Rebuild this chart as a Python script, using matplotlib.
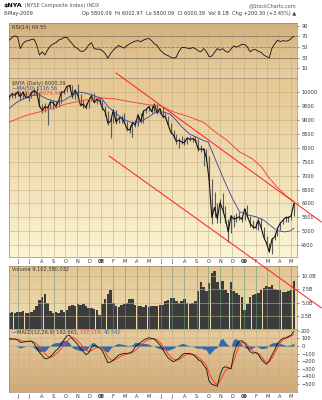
import numpy as np
import pandas as pd
import matplotlib
matplotlib.use("Agg")
import matplotlib.pyplot as plt
import matplotlib.dates as mdates
from matplotlib.lines import Line2D
from matplotlib.colors import LinearSegmentedColormap
from matplotlib.ticker import FuncFormatter

# weekly bars, Friday closes
weeks = pd.date_range("2007-05-11", "2009-05-08", freq="W-FRI")

close = [9820, 9930, 9880, 10000, 9830, 9990, 9800, 9800, 9960, 10050, 9980, 9500,
         9340, 9470, 9430, 9640, 9610, 9480, 9680, 9990, 10000, 10200, 10230, 9830,
         10060, 9890, 9520, 9560, 9440, 9700, 9860, 9620, 9730, 9690,
         9420, 9300, 8880, 8950, 9350, 8920, 9050, 9070, 8920, 8670, 8630, 8900,
         8810, 9180, 8930, 9310, 9370, 9470, 9300, 9560, 9250, 9400, 9120, 9110,
         8830, 8560, 8450, 8230, 8260, 8200, 8180, 8350, 8300, 8320, 8270, 7950,
         7950, 7950, 7650, 6860, 5500, 5860, 5450, 6030, 5780, 5430, 4980, 5560,
         5440, 5470, 5520, 5430,
         5800, 5540, 5290, 5160, 5130, 5400, 5140, 4790, 4570, 4260, 4720, 4800,
         5100, 5290, 5400, 5500, 5490, 5560, 6000]
high = [9900, 9980, 9990, 10060, 10050, 10030, 10050, 9900, 9990, 10110, 10150, 10010,
        9560, 9620, 9520, 9700, 9700, 9680, 9720, 10030, 10070, 10230, 10300, 10250,
        10100, 10300, 9920, 9700, 9620, 9750, 9950, 9950, 9780, 9800,
        9720, 9480, 9320, 9050, 9400, 9350, 9150, 9180, 9230, 8950, 8830, 8950,
        9000, 9220, 9250, 9350, 9420, 9520, 9520, 9620, 9580, 9440, 9450, 9250,
        9150, 8880, 8620, 8500, 8340, 8420, 8350, 8400, 8420, 8400, 8420, 8300,
        8080, 8000, 7950, 7700, 6880, 6400, 6000, 6150, 6380, 5900, 5450, 5600,
        5580, 5650, 5700, 5560,
        5830, 5960, 5550, 5400, 5350, 5480, 5480, 5150, 4830, 4600, 4770, 4950,
        5150, 5330, 5450, 5550, 5560, 5650, 6020]
low = [9720, 9780, 9800, 9850, 9720, 9760, 9770, 9680, 9780, 9880, 9940, 9450,
       9250, 9280, 8830, 9420, 9380, 9430, 9450, 9620, 9930, 9980, 10150, 9800,
       9750, 9850, 9480, 9420, 9380, 9420, 9660, 9600, 9550, 9650,
       9350, 9120, 8820, 8350, 8900, 8860, 8880, 8900, 8880, 8600, 8520, 8390,
       8750, 8770, 8900, 8880, 9230, 9300, 9250, 9290, 9200, 9200, 9080, 9050,
       8800, 8500, 8350, 8150, 8000, 8150, 8100, 8120, 8250, 8200, 8220, 7880,
       7860, 7350, 7550, 6800, 5250, 5500, 5300, 5300, 5650, 5300, 4620, 4950,
       5150, 5350, 5400, 5350,
       5400, 5500, 5150, 5100, 5080, 5050, 5100, 4750, 4530, 4250, 4200, 4700,
       4820, 5050, 5250, 5350, 5330, 5420, 5560]

rsi = [63, 68, 71, 69, 47, 57, 61, 62, 64, 65, 54, 35, 41, 35, 45, 52, 56, 58,
       63, 65, 68, 68, 62, 56, 50, 47, 42, 42, 46, 54, 58, 47, 46, 46, 43, 38,
       29, 38, 44, 49, 53, 50, 48, 53, 56, 59, 61, 62, 60, 63, 65, 66, 62, 56,
       53, 45, 40, 36, 34, 31, 29, 31, 42, 49, 49, 48, 47, 49, 47, 43, 41, 47,
       42, 32, 33, 40, 47, 44, 47, 42, 40, 46, 52, 50, 52, 55, 55, 50, 41, 45,
       45, 42, 40, 35, 32, 30, 48, 56, 63, 60, 62, 61, 62, 66, 70]

# average daily volume per week, billions of shares
volume = [3.1, 3.2, 3.0, 3.3, 3.2, 3.4, 3.1, 3.0, 3.2, 3.6, 4.3, 5.5, 6.0, 6.6,
          5.0, 3.4, 3.1, 3.2, 3.0, 3.5, 3.2, 3.6, 4.3, 4.6, 4.4, 4.8, 4.5, 4.8,
          4.4, 4.0, 4.0, 3.8, 3.6, 2.6, 4.8, 5.6, 6.6, 7.3, 4.9, 4.4, 4.2, 4.6,
          4.8, 5.0, 5.7, 5.6, 4.6, 4.3, 4.4, 4.2, 4.6, 4.2, 4.4, 4.3, 4.4, 4.6,
          4.5, 5.2, 5.4, 5.9, 5.8, 5.2, 5.0, 5.3, 5.6, 5.0, 4.8, 5.0, 5.2, 7.2,
          8.8, 8.0, 7.2, 8.6, 10.5, 11.0, 8.9, 7.6, 9.0, 7.4, 6.8, 8.9, 7.2, 6.8,
          6.4, 6.0, 3.6, 4.8, 6.0, 6.4, 6.6, 6.8, 7.4, 7.8, 8.2, 8.0, 8.4, 7.6,
          7.3, 7.4, 7.0, 7.0, 7.2, 7.3, 9.1]

macd = [92, 92, 92, 80, 48, 52, 57, 64, 65, 32, -25, -85, -125, -168, -165,
        -140, -100, -60, -31, 30, 85, 132, 140, 95, 60, 20, -35, -70, -115, -90,
        -20, 10, -9, -25, -60, -140, -220, -210, -185, -150, -118, -105, -97,
        -97, -90, -70, -10, 20, 50, 75, 95, 110, 100, 92, 55, 15, -40, -100,
        -155, -185, -206, -185, -162, -120, -97, -97, -100, -112, -140, -180,
        -200, -250, -300, -460, -505, -515, -530, -382, -290, -272, -285, -300,
        -110, 5, 65, 70, 35, -15, -75, -95, -85, -110, -170, -210, -240, -190,
        -120, -50, 30, 70, 103, 108, 125, 145, 193]
signal = [95, 93, 92, 88, 75, 65, 60, 60, 62, 55, 30, -10, -55, -100, -135,
          -150, -135, -105, -75, -35, 10, 60, 100, 115, 100, 70, 30, -15, -55,
          -75, -60, -35, -20, -20, -35, -75, -140, -180, -190, -175, -150, -130,
          -115, -105, -97, -88, -60, -25, 10, 40, 65, 85, 95, 95, 80, 50, 5,
          -50, -100, -145, -175, -185, -178, -155, -125, -110, -105, -108, -120,
          -150, -175, -210, -250, -350, -430, -480, -510, -460, -390, -320,
          -295, -295, -200, -90, 0, 50, 50, 20, -30, -70, -85, -95, -135, -180,
          -215, -210, -160, -95, -20, 40, 80, 100, 115, 130, 152]
hist = [-3, -1, 0, -8, -27, -13, -3, 4, 3, -23, -55, -75, -70, -68, -30, 10,
        35, 45, 44, 65, 75, 72, 40, -20, -40, -50, -65, -55, -60, -15, 40, 45,
        11, -5, -25, -65, -80, -30, 5, 25, 32, 25, 18, 8, 7, 18, 50, 45, 40, 35,
        30, 25, 5, -3, -25, -35, -45, -50, -55, -40, -31, 0, 16, 35, 28, 13, 5,
        -4, -20, -30, -25, -40, -50, -110, -75, -35, -20, 78, 100, 48, 10, -5,
        90, 95, 65, 20, -15, -35, -45, -25, 0, -15, -35, -30, -25, 20, 40, 45,
        50, 30, 23, 8, 10, 15, 41]

ma50_dates = ["2007-05-11", "2007-06-01", "2007-07-01", "2007-07-25", "2007-08-15",
              "2007-09-05", "2007-09-25", "2007-10-15", "2007-11-05", "2007-11-25",
              "2007-12-15", "2008-01-01", "2008-01-20", "2008-02-10", "2008-03-01",
              "2008-03-20", "2008-04-10", "2008-05-01", "2008-05-20", "2008-06-10",
              "2008-06-25", "2008-07-10", "2008-07-25", "2008-08-15", "2008-09-05",
              "2008-09-20", "2008-10-01", "2008-10-20", "2008-11-10", "2008-12-01",
              "2008-12-20", "2009-01-10", "2009-02-01", "2009-02-20", "2009-03-10",
              "2009-03-25", "2009-04-15", "2009-04-30", "2009-05-08"]
ma50 = [9420, 9650, 9850, 9900, 9750, 9660, 9680, 9850, 10000, 9950, 9850, 9780,
        9450, 9200, 9000, 8900, 8930, 9100, 9280, 9280, 9200, 9000, 8750, 8480,
        8350, 8250, 8200, 7550, 6850, 6200, 5700, 5590, 5520, 5400, 5200, 5030,
        4980, 5020, 5117]

ma200_dates = ["2007-05-11", "2007-06-25", "2007-08-15", "2007-10-01", "2007-11-15",
               "2008-01-01", "2008-02-01", "2008-03-15", "2008-05-01", "2008-06-01",
               "2008-07-01", "2008-08-15", "2008-09-20", "2008-10-20", "2008-11-15",
               "2008-12-20", "2009-01-20", "2009-02-15", "2009-03-01", "2009-03-25",
               "2009-04-20", "2009-05-08"]
ma200 = [8920, 9170, 9350, 9560, 9700, 9780, 9760, 9650, 9540, 9500, 9300, 9100,
         8900, 8550, 8300, 7850, 7620, 7300, 7000, 6600, 6250, 6079]

# hand-drawn channel
upper_dates = ["2008-02-08", "2009-07-17"]
upper_vals = [10680, 5340]
lower_dates = ["2008-01-21", "2009-07-17"]
lower_vals = [7706, 2258]

months = pd.date_range("2007-06-01", "2009-05-01", freq="MS")
month_labels = [d.strftime("%y") if d.month == 1 else d.strftime("%b")[0] for d in months]
xlim = (pd.Timestamp("2007-05-10"), pd.Timestamp("2009-05-16"))

plt.rcParams["font.family"] = "DejaVu Sans"
fs = 3.6
grid_col = "#c4ad86"

fig = plt.figure(figsize=(3.22, 4.0), dpi=100)
fig.patch.set_facecolor("white")

L, W = 9 / 322, 288 / 322
ax_rsi = fig.add_axes([L, 1 - 78 / 400, W, 55 / 400])
ax_px = fig.add_axes([L, 1 - 257 / 400, W, 179 / 400])
ax_vol = fig.add_axes([L, 1 - 329 / 400, W, 63 / 400])
ax_macd = fig.add_axes([L, 1 - 392 / 400, W, 63 / 400])


def shade(ax, top, bottom):
    cmap = LinearSegmentedColormap.from_list("bg", [bottom, top])
    ax.imshow(np.linspace(0, 1, 64).reshape(-1, 1), cmap=cmap, origin="lower",
              aspect="auto", extent=[0, 1, 0, 1], transform=ax.transAxes, zorder=0)


for ax, top, bot in [(ax_rsi, "#d5b07c", "#e8cfa0"), (ax_px, "#e5c792", "#fbf4d3"),
                     (ax_vol, "#e3c695", "#f0dfb2"), (ax_macd, "#e7cd9e", "#d2a977")]:
    shade(ax, top, bot)
    ax.set_xticks(months)
    ax.grid(True, color=grid_col, lw=0.4)
    ax.yaxis.tick_right()
    ax.tick_params(axis="y", labelsize=fs, length=1.5, width=0.4, pad=1.5,
                   colors="#333333")
    ax.tick_params(axis="x", length=0, labelsize=fs, pad=1.5, colors="#333333")
    for s in ax.spines.values():
        s.set_color("#9a8a70")
        s.set_linewidth(0.5)

# RSI
ax_rsi.plot(weeks, rsi, color="#111111", lw=0.6, zorder=3)
ax_rsi.axhline(70, color="#8a7a64", lw=0.6, zorder=2)
ax_rsi.axhline(30, color="#8a7a64", lw=0.6, zorder=2)
ax_rsi.axhline(50, color="#8a7a64", lw=0.5, ls=(0, (4, 2)), zorder=2)
ax_rsi.set_ylim(-8, 95)
ax_rsi.set_yticks([10, 30, 50, 70, 90])
ax_rsi.set_xticklabels([])
ax_rsi.text(0.01, 0.97, "RSI(14) 69.55", transform=ax_rsi.transAxes, fontsize=fs,
            va="top", color="#333333")

# price
ax_px.vlines(weeks, low, high, color="#5a5a5a", lw=0.8, zorder=3)
ax_px.plot(weeks, close, color="#111111", lw=0.8, zorder=4)
ax_px.plot(pd.to_datetime(ma200_dates), ma200, color="#f24a3c", lw=0.7, zorder=5)
ax_px.plot(pd.to_datetime(ma50_dates), ma50, color="#3b3ea0", lw=0.6, zorder=5)
ax_px.set_ylim(4080, 10500)
ax_px.set_yticks(range(4500, 10001, 500))
ax_px.set_xticklabels(month_labels)
ax_px.text(0.01, 0.985, "$NYA (Daily) 6000.39", transform=ax_px.transAxes,
           fontsize=fs, va="top", color="#333333")
ax_px.text(0.01, 0.955, "\u2014MA(50) 5116.56", transform=ax_px.transAxes,
           fontsize=fs, va="top", color="#3b3ea0")
ax_px.text(0.01, 0.925, "\u2014MA(200) 6079.34", transform=ax_px.transAxes,
           fontsize=fs, va="top", color="#f24a3c")

# volume
ax_vol.bar(weeks, volume, width=6.5, color="#3c3c3c", zorder=2)
ax_vol.set_axisbelow(False)
ax_vol.grid(True, axis="x", color="#5f9a78", lw=0.5, alpha=0.8)
ax_vol.set_ylim(0, 11.9)
ax_vol.set_yticks([2.5, 5.0, 7.5, 10.0])
ax_vol.yaxis.set_major_formatter(FuncFormatter(lambda v, p: f"{v:.1f}B"))
ax_vol.set_xticklabels([])
ax_vol.text(0.01, 0.98, "Volume 9,102,380,032", transform=ax_vol.transAxes,
            fontsize=fs, va="top", color="#333333", zorder=6)

# MACD
ax_macd.fill_between(weeks, 0, hist, color="#2d6bb0", lw=0, zorder=2)
ax_macd.plot(weeks, signal, color="#ff3b2f", lw=0.7, zorder=3)
ax_macd.plot(weeks, macd, color="#111111", lw=0.6, zorder=4)
ax_macd.set_ylim(-605, 224)
ax_macd.set_yticks(range(-500, 201, 100))
ax_macd.set_xticklabels(month_labels)
t = ax_macd.text(0.01, 0.98, "\u2014MACD(12,26,9) 192.661, ", transform=ax_macd.transAxes,
                 fontsize=fs, va="top", color="#333333")
t2 = ax_macd.annotate("152.119, ", xycoords=t, xy=(1, 0), va="bottom",
                      fontsize=fs, color="#ff3b2f")
ax_macd.annotate("40.542", xycoords=t2, xy=(1, 0), va="bottom", fontsize=fs,
                 color="#2d6bb0")

for ax in (ax_rsi, ax_px, ax_vol, ax_macd):
    ax.set_xlim(*xlim)
for ax in (ax_px, ax_macd):
    for lab in ax.get_xticklabels():
        if lab.get_text().isdigit():
            lab.set_fontweight("bold")

# channel lines run across the panels
for d, v in [(upper_dates, upper_vals), (lower_dates, lower_vals)]:
    fig.add_artist(Line2D(mdates.date2num(pd.to_datetime(d)), v, color="#ff1a1a",
                          lw=0.7, transform=ax_px.transData, zorder=10))

# header
title = fig.text(4 / 322, 1 - 6 / 400, "$NYA", fontsize=4.6, fontweight="bold",
                 va="center")
ax_rsi.annotate(" (NYSE Composite Index) INDX", xy=(1, 0.5), xycoords=title,
                va="center", fontsize=fs, color="#555555", annotation_clip=False)
fig.text(296 / 322, 1 - 6 / 400, "@StockCharts.com", fontsize=fs, va="center",
         ha="right", color="#555555")
fig.text(4 / 322, 1 - 13 / 400, "8-May-2009", fontsize=fs, va="center", color="#333333")
fig.text(296 / 322, 1 - 13 / 400,
         "Op 5800.09  Hi 6002.97  Lo 5800.09  Cl 6000.39  Vol 9.1B  Chg +200.30 (+3.45%) \u25b2",
         fontsize=fs, va="center", ha="right", color="#333333")

fig.savefig("out.png", dpi=100)
